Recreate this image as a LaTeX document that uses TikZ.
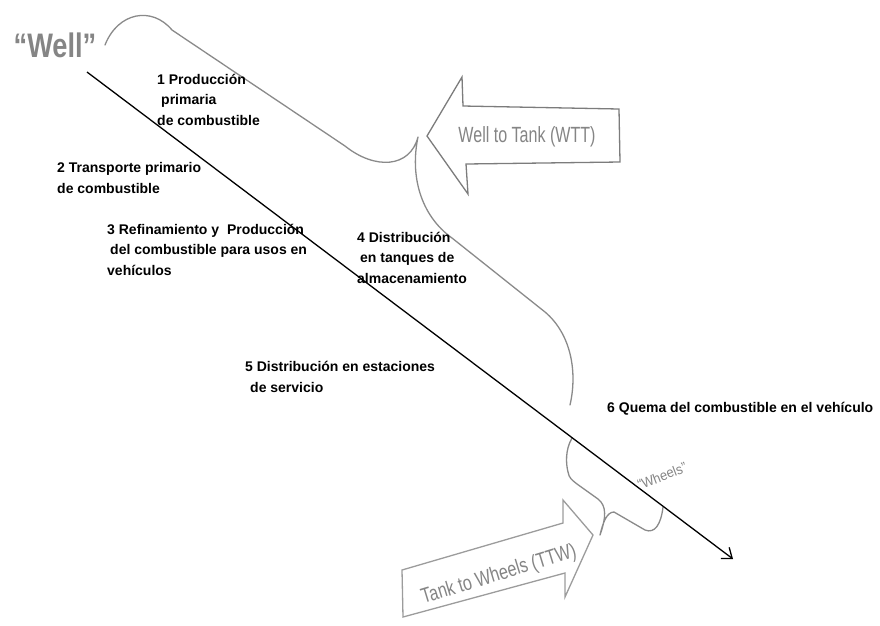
\documentclass[tikz,border=0pt]{standalone}
\usepackage{fontspec}
\setmainfont{Liberation Sans}
\usetikzlibrary{arrows.meta}
\definecolor{braceg}{HTML}{8A8A8A}
\definecolor{arrg}{HTML}{7C7C7C}
\definecolor{txtg}{HTML}{858585}
\begin{document}
\begin{tikzpicture}[x=1pt,y=-1pt,
  txt/.style={font=\fontsize{14}{20.3}\selectfont\bfseries, align=left, inner sep=0pt, anchor=base west},
  bracel/.style={draw=braceg, line width=1.3pt, line cap=round, line join=round},
  bigarrow/.style={draw=arrg, line width=1.3pt, line join=miter, fill=white},
  graytxt/.style={text=txtg, inner sep=0pt}]
\useasboundingbox (0,0) rectangle (880,625);

% Well to Wheels main brace
\draw[bracel] (105,45) .. controls (118,12) and (152,6) .. (172,30)
  -- (345,146) .. controls (375,170) and (410,168) .. (418,137)
  .. controls (410,175) and (420,215) .. (452,238)
  -- (545,312) .. controls (570,333) and (578,370) .. (570,405);

% Wheels brace
\draw[bracel] (572,438) .. controls (565,450) and (566,464) .. (568,472)
  .. controls (569,478) and (572,480) .. (577,484)
  -- (598,499) .. controls (607,506) and (606,518) .. (600,535)
  .. controls (603,522) and (607,512) .. (614,512)
  -- (645,530) .. controls (655,534) and (661,524) .. (663,507);

% Well to Tank arrow
\draw[bigarrow] (427,136) -- (462,77) -- (463,106) -- (619,109) -- (620,162)
  -- (466,164) -- (468,194) -- cycle;
\node[graytxt, font=\fontsize{22}{22}\selectfont] (wtt) at (527,137)
  {\scalebox{0.73}[1]{Well to Tank (WTT)}};

% Tank to Wheels arrow
\draw[bigarrow, draw=braceg!85] (402,570) -- (563,523) -- (563,500) -- (593,535)
  -- (565,597) -- (565,573) -- (403,617) -- cycle;
\node[graytxt, font=\fontsize{21}{21}\selectfont, rotate=17] (ttw) at (499,575)
  {\scalebox{0.77}[1]{Tank to Wheels (TTW)}};

% labels Well / Wheels
\node[graytxt, font=\fontsize{34}{34}\selectfont\bfseries] (well) at (55,45)
  {\scalebox{0.8}[1]{“Well”}};
\node[graytxt, font=\fontsize{14}{14}\selectfont, rotate=21] (wheels) at (662,476)
  {\scalebox{0.92}[1]{“Wheels”}};

% main arrow
\coordinate (start) at (87,72);
\coordinate (end) at (733,559);
\draw[line width=1.3pt, -{Straight Barb[length=9pt,width=14pt]}] (start) -- (end);

% step texts (anchor = baseline of last line)
\node[txt] (t1) at (157,125) {1 Producción\\\hspace*{4pt}primaria\\de combustible};
\node[txt] (t2) at (57,193) {2 Transporte primario\\de combustible};
\node[txt] (t3) at (107,275) {3 Refinamiento y \ Producción\\\hspace*{3pt}del combustible para usos en\\vehículos};
\node[txt] (t4) at (357,283) {4 Distribución\\\hspace*{3pt}en tanques de\\almacenamiento};
\node[txt] (t5) at (245,392) {5 Distribución en estaciones\\\hspace*{5pt}de servicio};
\node[txt] (t6) at (607,412) {6 Quema del combustible en el vehículo};
\end{tikzpicture}
\end{document}
